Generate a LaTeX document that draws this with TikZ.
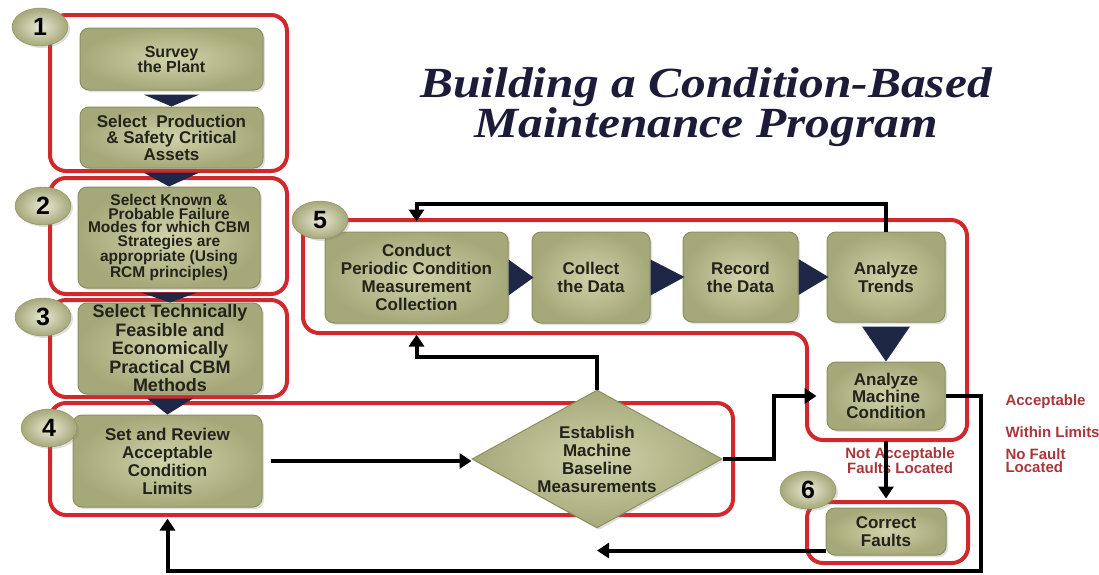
\documentclass[tikz,border=0pt]{standalone}
\usepackage{fontspec}
\setmainfont{Liberation Sans}
\newfontfamily\titlefont[FakeStretch=1.15]{Liberation Serif}
\usetikzlibrary{arrows.meta,shapes.geometric,calc,shadows}

\definecolor{grpred}{HTML}{D0282C}
\definecolor{trinavy}{HTML}{1E2846}
\definecolor{boxin}{HTML}{D0D3AA}
\definecolor{boxout}{HTML}{A5A878}
\definecolor{boxline}{HTML}{8C8F60}
\definecolor{boxtext}{HTML}{22231A}
\definecolor{lblred}{HTML}{A8363A}
\definecolor{titleblue}{HTML}{1C1C38}

% navy triangles between the step boxes
\newcommand{\tridown}[3]{%
  \fill[trinavy] ($(#1.south)+(-#3,4)$) -- ($(#1.south)+(#3,4)$) -- (#2.north) -- cycle;}
\newcommand{\triright}[2]{%
  \fill[trinavy] ($(#1.east)+(0,-18)$) -- ($(#1.east)+(0,18)$) -- ($(#2.west)+(2,0)$) -- cycle;}

\begin{document}
\begin{tikzpicture}[x=1pt,y=-1pt,
  box/.style={rectangle,rounded corners=9pt,draw=boxline,line width=1pt,shading=radial,
    inner color=boxin,outer color=boxout,align=center,text=boxtext,inner sep=1pt,
    drop shadow={opacity=0.25,shadow xshift=2pt,shadow yshift=-2pt},
    font=\bfseries\fontsize{17}{18}\selectfont},
  badge/.style={ellipse,minimum width=56pt,minimum height=38pt,inner sep=0pt,draw=boxline,
    shading=radial,inner color=boxin!50!white,outer color=boxout,
    drop shadow={opacity=0.25,shadow xshift=2pt,shadow yshift=-2pt},
    font=\bfseries\fontsize{25}{25}\selectfont},
  grp/.style={draw=grpred,line width=4pt,rounded corners=16pt},
  flow/.style={line width=4pt,-{Triangle[length=12pt,width=15pt]}},
  lbl/.style={text=lblred,font=\bfseries\fontsize{15}{13}\selectfont},
  title/.style={text=titleblue,inner sep=0pt,align=center,
    font=\titlefont\bfseries\itshape\fontsize{43}{35}\selectfont}]
\useasboundingbox (0,0) rectangle (1099,574);

% title
\node[title] (title) at (706,107) {Building a Condition-Based\\Maintenance Program};

% red group frames
\draw[grp] (50,15) rectangle (287,171);
\draw[grp] (50,178) rectangle (287,294);
\draw[grp] (50,300) rectangle (287,397);
\draw[grp] (50,403) rectangle (733,515);
\draw[grp] (303,220) -- (967,220) -- (967,440) -- (807,440) -- (807,333) -- (303,333) -- cycle;
\draw[grp] (807,502) rectangle (968,563);

% left column
\node[box,minimum width=183pt,minimum height=62pt,font=\bfseries\fontsize{16}{15}\selectfont] (survey) at (171.5,59) {Survey\\the Plant};
\node[box,minimum width=183pt,minimum height=61pt,font=\bfseries\fontsize{17}{16.5}\selectfont] (assets) at (171.5,137.5) {Select~ Production\\\& Safety Critical\\Assets};
\node[box,minimum width=182pt,minimum height=101pt,font=\bfseries\fontsize{15.5}{13.5}\selectfont] (fail) at (169,237.5) {Select Known \&\\Probable Failure\\Modes for which CBM\\Strategies are\\appropriate (Using\\RCM principles)};
\node[box,minimum width=184pt,minimum height=91pt,inner sep=0pt,font=\bfseries\fontsize{18}{18.5}\selectfont] (tech) at (170,348.5) {Select Technically\\Feasible and\\Economically\\Practical CBM\\Methods};
\node[box,minimum width=189pt,minimum height=92pt] (limits) at (167.5,461) {Set and Review\\Acceptable\\Condition\\Limits};

% loop of step 5
\node[box,minimum width=183pt,minimum height=91pt] (conduct) at (416.5,277.5) {Conduct\\Periodic Condition\\Measurement\\Collection};
\node[box,minimum width=118pt,minimum height=91pt] (collect) at (591,277.5) {Collect\\the Data};
\node[box,minimum width=115pt,minimum height=90pt] (record) at (740.5,277) {Record\\the Data};
\node[box,minimum width=118pt,minimum height=90pt] (trends) at (886,277) {Analyze\\Trends};
\node[box,minimum width=118pt,minimum height=68pt,font=\bfseries\fontsize{17}{16.7}\selectfont] (mach) at (886,396) {Analyze\\Machine\\Condition};
\node[box,minimum width=120pt,minimum height=47pt] (correct) at (886,531.5) {Correct\\Faults};
\node[box,shape=diamond,sharp corners,aspect=1.8,minimum width=250pt,minimum height=138pt,inner sep=0pt] (base) at (597,459) {Establish\\Machine\\Baseline\\Measurements};

% numbers
\node[badge] (b1) at (40,27) {1};
\node[badge] (b2) at (43,206) {2};
\node[badge] (b3) at (43,317) {3};
\node[badge] (b4) at (49,428) {4};
\node[badge] (b5) at (320,220) {5};
\node[badge] (b6) at (808,490) {6};

\tridown{survey}{assets}{28}
\tridown{assets}{fail}{28}
\tridown{fail}{tech}{28}
\tridown{tech}{limits}{23}
\tridown{trends}{mach}{24}
\triright{conduct}{collect}
\triright{collect}{record}
\triright{record}{trends}

% labels
\node[lbl,align=center] (notacc) at (900,461) {Not Acceptable\\Faults Located};
\node[lbl,anchor=west] (acc) at (1002,402) {Acceptable};
\node[lbl,anchor=west] (within) at (1002,432) {Within Limits};
\node[lbl,anchor=west,align=left] (nofault) at (1002,461) {No Fault\\Located};

% black arrows
\coordinate (ret) at ($(correct.south west)+(0,-5)$);
\draw[flow,shorten <=8pt] (limits.east) -- (limits.east -| base.west);
\draw[flow,shorten >=11pt] (base.north) -- ++(0,-33) -| (conduct.south);
\draw[flow,shorten >=10pt] (trends.north) -- ++(0,-28) -| (conduct.north);
\draw[flow,shorten >=10pt] (base.east) -- ++(51,0) |- (mach.west);
\draw[flow,shorten <=10pt,shorten >=9pt] (mach.south) -- (correct.north);
\draw[flow] (ret) -- (ret -| base.south);
\draw[flow,shorten >=11pt] (mach.east) -- ++(35,0) -- ++(0,175) -| (limits.south);
\end{tikzpicture}
\end{document}
